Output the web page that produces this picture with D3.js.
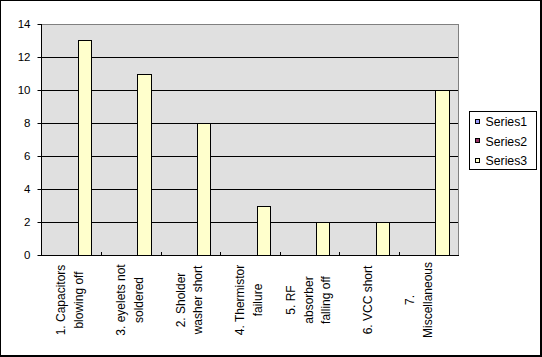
<!DOCTYPE html>
<html>
<head>
<meta charset="utf-8">
<script src="https://cdn.jsdelivr.net/npm/d3@7"></script>
<style>
html,body{margin:0;padding:0;background:#fff;}
svg{display:block;}
text{font-family:"Liberation Sans",Arial,sans-serif;font-size:11.5px;fill:#000;}
</style>
</head>
<body>
<svg id="chart" width="542" height="357"></svg>
<script>
const categories = [
  ["1. Capacitors","blowing off"],
  ["3. eyelets not","soldered"],
  ["2. Sholder","washer short"],
  ["4. Thermistor","failure"],
  ["5. RF","absorber","falling off"],
  ["6. VCC short"],
  ["7.","Miscellaneous",""]
];
const seriesNames = ["Series1","Series2","Series3"];
const series1 = [0,0,0,0,0,0,0];
const series2 = [0,0,0,0,0,0,0];
const series3 = [13,11,8,3,2,2,10];
const yTicks = [0,2,4,6,8,10,12,14];
const colors = ["#9999FF","#993366","#FFFFCC"];

(function(){
const values = [series1, series2, series3];
const svg = d3.select("#chart");
const cx = v => Math.round(v) + 0.5;

// outer border
svg.append("rect").attr("x",0.5).attr("y",0.5).attr("width",540).attr("height",355)
  .attr("fill","#fff").attr("stroke","#000");
svg.append("line").attr("x1",541.5).attr("x2",541.5).attr("y1",0).attr("y2",357).attr("stroke","#000");
svg.append("line").attr("x1",0).attr("x2",542).attr("y1",356.5).attr("y2",356.5).attr("stroke","#000");

const pL = 41, pR = 458, pT = 24, pB = 255;
const y = d3.scaleLinear().domain([0,14]).range([pB, pT]);
const idx = d3.range(categories.length);
const x0 = d3.scaleBand().domain(idx).range([pL+0.5, pR+0.5]).paddingInner(0).paddingOuter(0);
const x1 = d3.scaleBand().domain(seriesNames).range([0, x0.bandwidth()]).paddingInner(0).paddingOuter(0.75);

// plot area
svg.append("rect").attr("x",pL+0.5).attr("y",pT+0.5)
  .attr("width",pR-pL).attr("height",pB-pT)
  .attr("fill","#E0E0E0").attr("stroke","#808080");

// gridlines
svg.append("g").selectAll("line").data(yTicks.filter(t=>t>0 && t<14)).join("line")
  .attr("x1",pL).attr("x2",pR).attr("y1",d=>cx(y(d))).attr("y2",d=>cx(y(d)))
  .attr("stroke","#000");

// bars
const gBars = svg.append("g");
seriesNames.forEach((s,si)=>{
  gBars.selectAll(null).data(values[si].map((v,i)=>({v,i})).filter(d=>d.v>0)).join("rect")
    .attr("x",d=>cx(x0(d.i)+x1(s)))
    .attr("width",d=>Math.round(x0(d.i)+x1(s)+x1.bandwidth()) - Math.round(x0(d.i)+x1(s)))
    .attr("y",d=>cx(y(d.v)))
    .attr("height",d=>Math.round(y(0))-Math.round(y(d.v)))
    .attr("fill",colors[si]).attr("stroke","#000");
});

// y axis
const yAxis = d3.axisLeft(y).tickValues(yTicks).tickSize(4).tickPadding(7).tickFormat(d3.format("d"));
const gy = svg.append("g").attr("transform",`translate(${pL+0.5},0)`).call(yAxis);
gy.select(".domain").remove();
gy.selectAll(".tick").attr("transform",d=>`translate(0,${cx(y(d))})`);
gy.selectAll(".tick line").attr("stroke","#000");
gy.attr("font-family",null).attr("font-size",null);
svg.append("line").attr("x1",pL+0.5).attr("x2",pL+0.5).attr("y1",pT).attr("y2",pB+1).attr("stroke","#000");

// x axis
svg.append("line").attr("x1",pL).attr("x2",pR+1).attr("y1",pB+0.5).attr("y2",pB+0.5).attr("stroke","#000");
svg.append("g").selectAll("line").data(idx.slice(1)).join("line")
  .attr("x1",d=>cx(x0(d))).attr("x2",d=>cx(x0(d)))
  .attr("y1",pB-3).attr("y2",pB).attr("stroke","#000");

// category labels (rotated)
const lineGap = 17.7;
const gLab = svg.append("g");
categories.forEach((lines,i)=>{
  const c = x0(i) + x0.bandwidth()/2;
  const n = lines.length;
  lines.forEach((ln,j)=>{
    const bx = c + (j-(n-1)/2)*lineGap + 3;
    gLab.append("text")
      .attr("transform",`translate(${bx},300) rotate(-90)`)
      .attr("text-anchor","middle")
      .style("font-size","12px")
      .text(ln);
  });
});

// legend
const lg = svg.append("g");
lg.append("rect").attr("x",469.5).attr("y",111.5).attr("width",67).attr("height",58)
  .attr("fill","#fff").attr("stroke","#000");
const ly = d3.scalePoint().domain(seriesNames).range([121.5,161]);
seriesNames.forEach((s,si)=>{
  lg.append("rect").attr("x",475.5).attr("y",Math.round(ly(s))-2.5).attr("width",4).attr("height",4)
    .attr("fill",colors[si]).attr("stroke","#000");
  lg.append("text").attr("x",485.5).attr("y",ly(s)).attr("dy","0.36em")
    .style("font-size","12.3px").text(s);
});
})();
</script>
</body>
</html>
